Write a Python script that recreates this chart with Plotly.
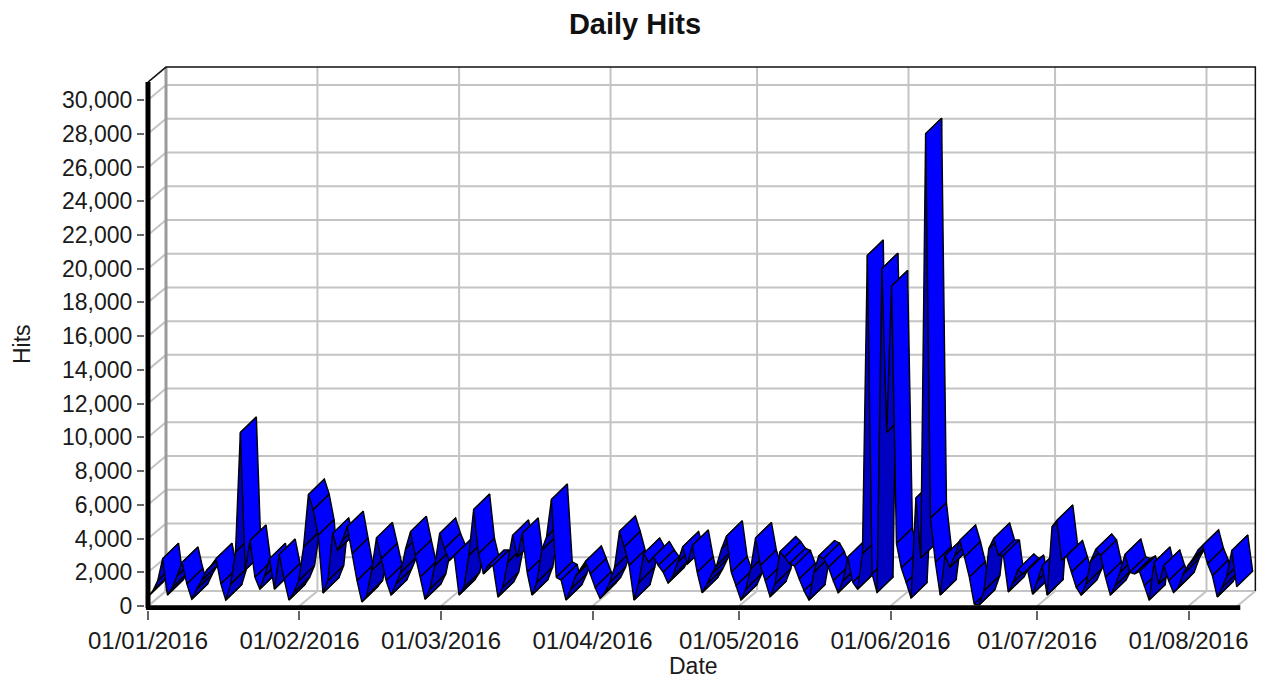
import pandas as pd
import plotly.graph_objects as go

START = "2016-01-01"
hits = [
 550,900,1500,2800,650,1100,1800,2580,1300,400,
 1000,1500,2100,2400,2800,1300,350,1300,3200,10280,
 2130,3880,1700,1000,1800,2800,1000,3050,1600,350,
 800,1500,3500,6600,5700,4200,770,1500,4300,3300,
 3900,4700,3100,1500,240,600,2100,4030,2800,1500,
 650,1300,2000,3400,4400,3000,1700,400,1000,2400,
 4300,3400,2700,3000,650,1100,3000,5720,3100,1900,
 2400,2400,530,1100,2600,4180,2900,4300,2000,650,
 1400,3300,4100,6310,1700,1540,350,1000,1800,2200,
 2640,1900,1100,450,800,1400,2300,4420,3500,2400,
 350,1400,3110,2600,2900,2400,2000,1360,1800,2600,
 3500,2500,3590,2000,790,1300,1900,2400,3400,4130,
 2000,1200,350,1000,2200,4030,2400,1500,550,1300,
 3200,2900,2500,2370,1600,900,350,2000,2960,2800,
 2300,1500,790,1500,2900,1400,1000,3100,20780,1900,
 800,20000,10300,18970,3700,2250,1400,470,6400,2850,
 28000,5200,2600,650,2990,2300,3000,3880,2900,1700,
 100,60,900,3400,4000,3000,3000,830,1400,2160,
 1900,2100,700,1500,2400,650,4700,5070,2700,2960,
 2000,1100,650,1300,2700,3350,3000,1700,650,1200,
 2000,3050,2000,1900,2050,1200,350,2580,1300,2400,
 1500,800,1100,1900,2400,2800,3300,3590,2500,1800,
 540,1100,1800,3290,1140,
]
y_ticks = list(range(0, 30001, 2000))
month_starts = ["2016-01-01","2016-02-01","2016-03-01","2016-04-01",
                "2016-05-01","2016-06-01","2016-07-01","2016-08-01"]
month_labels = ["01/01/2016","01/02/2016","01/03/2016","01/04/2016",
                "01/05/2016","01/06/2016","01/07/2016","01/08/2016"]

PX_DAY, PX_HIT = 4.885, 0.016867
POINT_STEP = 0.9949          # calendar days between two successive points
WALL_DX, WALL_DY = 18 / PX_DAY, 889
RIB_DX, RIB_DY = 16 / PX_DAY, 920
X_END = 223.0
Y_TOP = 31060
GRID = "#c4c4c4"

base = pd.Timestamp(START)
days = [i * POINT_STEP for i in range(len(hits))]
month_days = [(pd.Timestamp(m) - base).days for m in month_starts]

fig = go.Figure()

def seg(xs, ys, color, width):
    fig.add_trace(go.Scatter(x=xs, y=ys, mode="lines", line=dict(color=color, width=width),
                             hoverinfo="skip", showlegend=False, cliponaxis=False))

# back wall and side wall grid
xs, ys = [], []
for v in y_ticks:
    xs += [0, WALL_DX, X_END + WALL_DX, None]
    ys += [v, v + WALL_DY, v + WALL_DY, None]
for m in month_days:
    xs += [m, m + WALL_DX, m + WALL_DX, None]
    ys += [0, WALL_DY, Y_TOP + WALL_DY, None]
xs += [X_END, X_END + WALL_DX]
ys += [0, WALL_DY]
seg(xs, ys, GRID, 2)
seg([WALL_DX, WALL_DX], [WALL_DY, Y_TOP + WALL_DY], "#9a9a9a", 3)
seg([0, WALL_DX, X_END + WALL_DX, X_END + WALL_DX],
    [Y_TOP, Y_TOP + WALL_DY, Y_TOP + WALL_DY, WALL_DY], "#111111", 1.5)

# ribbon
for i in range(len(hits) - 1):
    x0, x1 = days[i], days[i + 1]
    y0, y1 = hits[i], hits[i + 1]
    fig.add_trace(go.Scatter(
        x=[x0, x1, x1 + RIB_DX, x0 + RIB_DX, x0],
        y=[y0, y1, y1 + RIB_DY, y0 + RIB_DY, y0],
        mode="lines", fill="toself",
        fillcolor="#0000ff" if y1 <= y0 else "#0000c0",
        line=dict(color="#000000", width=1.4),
        hoverinfo="skip", showlegend=False, cliponaxis=False))

# front axis bars
seg([0, 0], [-130, Y_TOP], "#000000", 5)
seg([-0.4, X_END + 0.6], [-130, -130], "#000000", 6)

font = "Liberation Sans, Arial, sans-serif"
TXT = "#1a1a1a"
L, R, T, B = 145, 4, 60, 69
W, H = 1264 - L - R, 679 - T - B
fig.update_layout(
    width=1264, height=679,
    margin=dict(l=L, r=R, t=T, b=B),
    paper_bgcolor="white", plot_bgcolor="white",
    title=dict(text="<b>Daily Hits</b>", x=635 / 1264, xanchor="center", xref="container",
               y=1 - 24 / 679, yanchor="middle", yref="container",
               font=dict(family=font, size=29, color="#111111")),
    xaxis=dict(range=[-3 / PX_DAY, (W - 3) / PX_DAY], tickmode="array", tickvals=month_days, ticktext=month_labels,
               showgrid=False, zeroline=False, showline=False,
               ticks="outside", ticklen=9, tickwidth=1.5, tickcolor="#666666",
               tickfont=dict(family=font, size=24, color=TXT)),
    yaxis=dict(range=[-4 / PX_HIT, (H - 4) / PX_HIT], tickmode="array", tickvals=y_ticks,
               ticktext=[f"{v:,}" for v in y_ticks],
               showgrid=False, zeroline=False, showline=False,
               ticks="outside", ticklen=7, tickwidth=1.5, tickcolor="#666666",
               tickfont=dict(family=font, size=23, color=TXT)),
    annotations=[
        dict(text="Date", x=(693 - L) / W, y=(679 - B - 666) / H, xref="paper", yref="paper",
             xanchor="center", yanchor="middle", showarrow=False,
             font=dict(family=font, size=23, color=TXT)),
        dict(text="Hits", x=(22 - L) / W, y=(679 - B - 344) / H, xref="paper", yref="paper",
             xanchor="center", yanchor="middle", showarrow=False, textangle=-90,
             font=dict(family=font, size=23, color=TXT)),
    ],
)
fig.write_html("out.html", config={"displayModeBar": False},
               post_script="document.body.style.margin='0';document.body.style.overflow='hidden';")
